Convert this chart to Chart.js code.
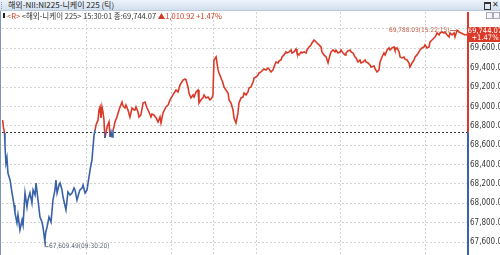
<!DOCTYPE html>
<html><head><meta charset="utf-8">
<script src="https://cdn.jsdelivr.net/npm/chart.js@4/dist/chart.umd.min.js"></script>
<style>
html,body{margin:0;padding:0;background:#fff;width:500px;height:255px;overflow:hidden}
#wrap{position:relative;width:500px;height:255px}
canvas{position:absolute;left:0;top:0}
#title{position:absolute;left:0;top:0;width:500px;height:10px;background:linear-gradient(#edf3fa,#d2dfee);border-bottom:1px solid #b9c9dc}
#title .t{position:absolute;left:8px;top:-1px;font:8px 'Liberation Sans Narrow','Noto Sans CJK KR',sans-serif;line-height:12px;color:#1e1e1e;white-space:pre}
#grip{position:absolute;left:1px;top:2px;width:2px;height:7px;border-left:1px dotted #8a9ab0}
#btnmax{position:absolute;left:484px;top:2px;width:5px;height:5px;border:1px solid #333;border-top-width:2px}
#btnx{position:absolute;left:492px;top:-1px;font:bold 8px 'DejaVu Sans',sans-serif;line-height:11px;color:#333}
#info{position:absolute;left:7px;top:10px;font:7.5px 'Liberation Sans Narrow','Noto Sans CJK KR',sans-serif;line-height:12px;color:#333;white-space:pre}
#info .r{color:#d23c24}
#mark{position:absolute;left:3px;top:13px;width:2px;height:5px;background:#222}
#leftedge{position:absolute;left:0;top:11px;width:1px;height:244px;background:#7f97b8}
.mini{position:absolute;top:12px;width:5px;height:5px;border:1px solid #aab;background:#f4f6f9}
</style></head>
<body><div id="wrap">
<canvas id="c" width="500" height="255"></canvas>
<div id="title"><div id="grip"></div><span class="t" id="ttext"></span><div id="btnmax"></div><div id="btnx">✕</div></div>
<div id="leftedge"></div>
<div id="mark"></div>
<div id="info"></div>
<div class="mini" style="left:486px"></div><div class="mini" style="left:493px"></div>
</div>
<script>
// ---- data ----
const instrument = '해외-NII:NI225-니케이 225 (틱)';
const shortName = '해외-니케이 225';
const lastTime = '15:30:01';
const prevClose = 68733.15;
// trading minutes since 09:00 (lunch break 11:30-12:30 removed)
const tradeMinutes = [0.4,1.1,1.8,2.1,2.8,3.5,4.2,5.7,7.1,8.5,9.2,10.6,11.3,12.7,14.2,14.9,16.3,17.7,18.4,19.8,21.2,22.0,23.4,24.1,25.5,26.9,28.3,29.0,30.33,31.0,31.9,33.3,34.7,36.1,37.5,38.2,39.0,40.4,41.1,42.5,43.2,45.3,46.7,48.2,49.6,51.0,51.7,53.1,54.5,55.2,56.7,57.4,58.8,60.2,61.6,63.0,63.7,64.4,65.2,65.9,66.6,68.0,68.7,69.4,70.1,70.8,71.5,72.2,72.9,73.7,74.4,75.8,76.5,77.2,77.9,78.6,79.3,80.0,81.4,82.2,83.6,85.0,85.7,87.1,87.8,89.2,90.6,92.1,93.5,94.2,94.9,96.3,97.0,98.4,99.9,101.3,102.7,104.1,105.5,106.2,107.6,109.1,110.5,111.9,112.6,114.0,116.1,117.6,119.0,121.1,123.2,124.6,126.1,128.2,129.6,130.3,131.7,132.4,133.8,135.3,136.0,137.4,138.8,139.5,140.9,142.3,143.1,144.5,145.9,147.3,148.7,149.4,150.1,151.6,153.0,153.7,155.1,156.5,157.2,158.6,160.1,160.8,162.2,163.6,164.3,165.7,167.1,167.8,169.3,170.7,171.4,172.8,174.2,174.9,176.3,177.8,178.5,179.9,181.3,182.0,183.4,184.8,185.5,187.0,188.4,189.1,190.5,191.9,192.6,194.0,195.5,196.2,197.6,198.3,199.7,201.1,201.8,203.3,204.7,205.4,206.8,208.2,208.9,210.3,211.8,212.5,213.9,215.3,216.0,217.4,218.8,219.5,221.0,222.4,223.1,224.5,225.9,226.6,228.0,229.5,230.2,230.9,232.3,233.0,234.4,235.8,236.5,237.9,239.4,240.1,241.5,242.9,243.6,245.0,246.5,247.2,248.6,250.0,250.7,252.1,253.5,254.2,255.7,257.1,257.8,259.2,260.6,261.3,263.5,264.2,265.6,267.0,267.7,269.1,270.5,271.3,272.7,274.1,274.8,276.2,277.6,278.3,279.7,281.2,281.9,283.3,284.7,285.4,286.8,288.2,288.9,290.4,291.8,292.5,293.9,295.3,296.0,297.4,298.9,299.6,301.0,302.4,303.1,304.5,305.9,306.7,308.1,309.5,310.2,311.6,313.0,313.7,315.2,316.6,317.3,318.7,320.1,320.8,322.25,322.9,323.6,325.1,326.5,327.9,330.0];
const prices = [68860,68778,68726,68602,68416,68468,68313,68241,68107,67983,67900,67797,67880,67725,67828,67776,68107,67962,68034,68107,68003,68138,68086,68210,68034,67859,67807,67756,67609.49,67704,67756,67859,67807,68034,68138,68241,68107,68189,68210,68138,68065,67931,68117,68086,68107,68158,68138,68034,68107,68138,68158,68189,68107,68138,68272,68396,68447,68571,68706,68757,68809,68860,68964,68995,68881,68995,68943,68860,68675,68737,68788,68840,68685,68737,68685,68757,68788,68840,68891,68933,68995,69046,69005,68984,69015,68964,68891,68984,68964,68964,68995,68943,68891,68912,69036,69046,68984,68943,68891,68922,68912,68881,68840,68891,68829,68933,68995,69015,69067,69119,69170,69150,69222,69273,69284,69273,69201,69139,69088,69119,69098,69150,69170,69036,69067,69088,69119,69088,69098,69067,69088,69119,69480,69511,69377,69346,69294,69242,69201,69170,69139,69067,69036,68964,68881,68829,68933,69036,69088,69098,69139,69119,69150,69191,69201,69253,69294,69304,69325,69346,69356,69377,69387,69377,69397,69387,69356,69377,69408,69459,69449,69470,69480,69511,69532,69563,69552,69563,69583,69552,69563,69593,69552,69532,69563,69552,69563,69552,69583,69614,69635,69655,69686,69666,69655,69635,69614,69563,69532,69511,69480,69449,69532,69563,69583,69563,69583,69552,69563,69583,69552,69532,69552,69573,69583,69563,69552,69511,69501,69459,69480,69449,69459,69480,69459,69449,69428,69408,69418,69387,69356,69377,69459,69511,69552,69532,69583,69604,69583,69604,69614,69583,69604,69563,69511,69501,69511,69490,69480,69449,69408,69449,69480,69511,69532,69563,69583,69604,69614,69635,69604,69614,69666,69686,69707,69717,69759,69738,69759,69769,69759,69769,69738,69717,69759,69738,69759,69717,69788.03,69779,69769,69759,69748,69738,69744.07];
const yTicks = [67600,67800,68000,68200,68400,68600,68800,69000,69200,69400,69600,69800];
const xGridMinutes = [60,120,150,180,240,300]; // 10:00, 11:00, 11:30|12:30, 13:00, 14:00, 15:00
const sessionMinutes = 330;
const yMin = 67477, yMax = 69975;

const RED = '#dc3a28', BLUE = '#3a62a8';
const NUMFONT = "'Liberation Sans Narrow','Arial Narrow','DejaVu Sans Condensed',sans-serif";
const fmt = v => v.toLocaleString('en-US',{minimumFractionDigits:2,maximumFractionDigits:2});
function clockOf(m){
  const t = (m <= 150 ? 540 + m : 600 + m) * 60;
  const s = Math.round(t);
  const p = n => String(n).padStart(2,'0');
  return p(Math.floor(s/3600)) + ':' + p(Math.floor(s%3600/60)) + ':' + p(s%60);
}
const last = prices[prices.length-1];
const chg = last - prevClose;
const pct = chg / prevClose * 100;

document.getElementById('ttext').textContent = instrument;
document.getElementById('info').innerHTML =
  '<span class="r">&lt;R&gt;</span> &lt;' + shortName + '&gt; ' + lastTime + ' 종:' + fmt(last) +
  ' <span class="r">▲' + fmt(chg) + ' +' + pct.toFixed(2) + '%</span>';

const overlay = {
  id:'overlay',
  beforeDatasetsDraw(chart){
    const {ctx, chartArea:a, scales:{y}} = chart;
    const by = Math.round(y.getPixelForValue(prevClose)) + 0.5;
    ctx.save();
    ctx.strokeStyle = '#333'; ctx.lineWidth = 1; ctx.setLineDash([2,2]);
    ctx.beginPath(); ctx.moveTo(a.left, by); ctx.lineTo(a.right, by); ctx.stroke();
    ctx.restore();
  },
  afterDraw(chart){
    const {ctx, chartArea:a, scales:{x,y}} = chart;
    const by = y.getPixelForValue(prevClose);
    ctx.save();
    // right axis line
    ctx.lineWidth = 2;
    ctx.strokeStyle = RED; ctx.beginPath(); ctx.moveTo(a.right, a.top); ctx.lineTo(a.right, by); ctx.stroke();
    ctx.strokeStyle = BLUE; ctx.beginPath(); ctx.moveTo(a.right, by); ctx.lineTo(a.right, chart.height); ctx.stroke();
    // min / max labels
    let iMin = 0, iMax = 0;
    prices.forEach((p,i)=>{ if(p<prices[iMin]) iMin=i; if(p>prices[iMax]) iMax=i; });
    ctx.font = '6.5px ' + NUMFONT;
    ctx.textBaseline = 'middle';
    const mx = Math.round(x.getPixelForValue(tradeMinutes[iMin])) + 0.5, my = y.getPixelForValue(prices[iMin]);
    ctx.strokeStyle = '#6a7488'; ctx.lineWidth = 1;
    ctx.beginPath(); ctx.moveTo(mx, my); ctx.lineTo(mx, my+5.5); ctx.lineTo(mx+3, my+5.5); ctx.stroke();
    ctx.fillStyle = '#5e6678'; ctx.textAlign = 'left';
    ctx.fillText(fmt(prices[iMin]) + '(' + clockOf(tradeMinutes[iMin]) + ')', mx+3.5, my+5.5);
    const hx = x.getPixelForValue(tradeMinutes[iMax]), hy = Math.round(y.getPixelForValue(prices[iMax])) + 0.5;
    ctx.strokeStyle = '#c86a5a';
    ctx.beginPath(); ctx.moveTo(hx-7, hy); ctx.lineTo(hx-1, hy); ctx.stroke();
    ctx.fillStyle = '#c4604e'; ctx.textAlign = 'right';
    ctx.fillText(fmt(prices[iMax]) + '(' + clockOf(tradeMinutes[iMax]) + ')', hx-7.5, hy);
    // last price box
    const py = y.getPixelForValue(last);
    ctx.fillStyle = RED;
    ctx.fillRect(a.right, Math.round(py-7.5), chart.width - a.right, 15);
    ctx.fillStyle = '#fff'; ctx.textAlign = 'center';
    ctx.font = '7.5px ' + NUMFONT;
    ctx.fillText(fmt(last), a.right + (chart.width-a.right)/2 + 1, py-3);
    ctx.fillText('+' + pct.toFixed(2) + '%', a.right + (chart.width-a.right)/2 + 1, py+3.5);
    ctx.restore();
  }
};

new Chart(document.getElementById('c').getContext('2d'), {
  type:'line',
  data:{datasets:[{
    data: tradeMinutes.map((m,i)=>({x:m, y:prices[i]})),
    borderColor: RED, borderWidth: 1.6, pointRadius: 0, tension: 0,
    segment:{ borderColor: c => ((c.p0.parsed.y + c.p1.parsed.y)/2 >= prevClose ? RED : BLUE) }
  }]},
  options:{
    responsive:false, animation:false, devicePixelRatio:1,
    layout:{padding:{top:12,left:2,right:0,bottom:1}},
    plugins:{legend:{display:false}, tooltip:{enabled:false}},
    scales:{
      x:{type:'linear', min:0, max:sessionMinutes,
        afterBuildTicks: s => { s.ticks = xGridMinutes.map(v=>({value:v})); },
        ticks:{display:false},
        grid:{color:'#d2d2d2', drawTicks:false, lineWidth:1},
        border:{display:false, dash:[2,2]},
        afterFit: s => { s.height = 0; s.paddingLeft = 0; s.paddingRight = 0; }
      },
      y:{position:'right', min:yMin, max:yMax,
        afterBuildTicks: s => { s.ticks = yTicks.map(v=>({value:v})); },
        ticks:{padding:2, color:'#3a3a3a', font:{family:NUMFONT, size:8},
          callback: v => (v === 69800 ? '' : fmt(v))},
        grid:{color:'#d2d2d2', drawTicks:false, lineWidth:1},
        border:{display:false, dash:[2,2]},
        afterFit: s => { s.width = 32; s.paddingTop = 0; s.paddingBottom = 0; }
      }
    }
  },
  plugins:[overlay]
});
</script>
</body></html>
